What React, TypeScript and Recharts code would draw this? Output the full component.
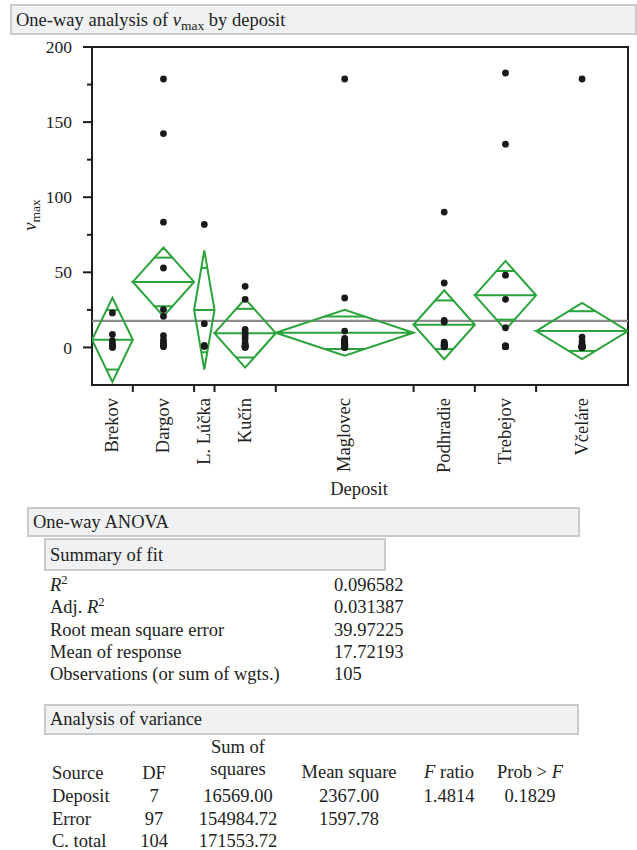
import React from 'react';
import { ScatterChart, Scatter, XAxis, YAxis, ReferenceArea } from 'recharts';

// ---------- data ----------
const deposits = ['Brekov', 'Dargov', 'L. Lúčka', 'Kučín', 'Maglovec', 'Podhradie', 'Trebejov', 'Včeláre'];
const groupSizes = [8, 12, 4, 12, 27, 12, 12, 18];
const groupMeans = [5.1, 43.6, 24.9, 9.5, 9.8, 15.1, 34.7, 10.9];
const ciHalfWidths = [28.0, 22.9, 39.7, 22.9, 15.3, 22.9, 22.9, 18.7];
const grandMean = 17.72193;

const brekovValues = [23, 8.7, 4.5, 2.5, 1.2, 0.8, 0.3, 0];
const dargovValues = [178.7, 142.4, 83.4, 52.9, 25.2, 20.7, 7.8, 5, 3, 2, 1.5, 0.5];
const lLuckaValues = [81.9, 15.8, 1.3, 0.6];
const kucinValues = [40.7, 32, 12, 10, 8, 6, 3, 1.5, 0.8, 0.5, 0.3, 0];
const maglovecValues = [178.7, 32.9, 10.9, 6, 5, 4, 4, 3, 3, 2, 2, 2, 2, 1.5, 1.5, 1, 1, 1, 1, 0.5, 0.5, 0.5, 0.5, 0.3, 0.2, 0, 0];
const podhradieValues = [90.1, 42.9, 18, 16.9, 3.5, 3, 2, 1.5, 1.2, 1, 0.5, 0.4];
const trebejovValues = [182.7, 135.3, 48.1, 32, 13.1, 1, 1, 0.8, 0.7, 0.7, 0.5, 0.5];
const vcelareValues = [178.7, 6.9, 4, 2, 1, 1, 0.5, 0.5, 0.3, 0.2, 0.2, 0.2, 0.1, 0.1, 0.1, 0.1, 0, 0];
const groupValues = [brekovValues, dargovValues, lLuckaValues, kucinValues, maglovecValues, podhradieValues, trebejovValues, vcelareValues];

const yMajorTicks = [0, 50, 100, 150, 200];
const yMinorTicks = [25, 75, 125, 175];
const yDomain: [number, number] = [-25, 200];

const summaryLabels = ['R2', 'Adj. R2', 'Root mean square error', 'Mean of response', 'Observations (or sum of wgts.)'];
const summaryValues = ['0.096582', '0.031387', '39.97225', '17.72193', '105'];

const anovaSources = ['Deposit', 'Error', 'C. total'];
const anovaDF = ['7', '97', '104'];
const anovaSS = ['16569.00', '154984.72', '171553.72'];
const anovaMS = ['2367.00', '1597.78', ''];
const anovaF = ['1.4814', '', ''];
const anovaP = ['0.1829', '', ''];

// ---------- derived ----------
const total = groupSizes.reduce((a, b) => a + b, 0);
const starts: number[] = [];
const ends: number[] = [];
const centers: number[] = [];
{
  let acc = 0;
  groupSizes.forEach((n) => {
    starts.push(acc);
    ends.push(acc + n);
    centers.push(acc + n / 2);
    acc += n;
  });
}
const boundaryTicks = ends.slice(0, ends.length - 1);
const xTicks = [...boundaryTicks, ...centers].sort((a, b) => a - b);
const yTicks = [...yMajorTicks, ...yMinorTicks].sort((a, b) => a - b);

const diamonds = groupMeans.map((m, i) => {
  const h = ciHalfWidths[i];
  const s = starts[i], e = ends[i], c = centers[i];
  return [
    { x: s, y: m }, { x: c, y: m + h }, { x: e, y: m }, { x: c, y: m - h }, { x: s, y: m }, { x: e, y: m },
  ];
});
const overlapMarks = groupMeans.flatMap((m, i) => {
  const k = ciHalfWidths[i] / Math.SQRT2;
  const hw = ((ends[i] - starts[i]) / 2) * (1 - 1 / Math.SQRT2);
  const c = centers[i];
  return [
    [{ x: c - hw, y: m + k }, { x: c + hw, y: m + k }],
    [{ x: c - hw, y: m - k }, { x: c + hw, y: m - k }],
  ];
});
const grandMeanLine = [{ x: 0, y: grandMean }, { x: total, y: grandMean }];
const points = groupValues.flatMap((vals, i) => vals.map((v) => ({ x: centers[i], y: v })));

// ---------- style ----------
const FONT = '"Liberation Serif", "Times New Roman", serif';
const FS = 18.5;
const GREEN = '#2aa33b';
const FRAME = '#1e1e1e';
const BOX_FILL = '#f0f1f3';
const BOX_STROKE = '#c9cacc';

const noShape = () => <g />;

const Dot = (props: any) => {
  const { cx, cy } = props;
  return <circle cx={cx} cy={cy} r={3.4} fill="#1a1a1a" />;
};

const XTick = (props: any) => {
  const { x, y, payload } = props;
  const v = payload.value;
  const bi = boundaryTicks.indexOf(v);
  if (bi >= 0) {
    return <line x1={x} x2={x} y1={y} y2={y + 7} stroke={FRAME} strokeWidth={2} />;
  }
  const ci = centers.indexOf(v);
  const ty = y + 13;
  return (
    <text
      x={x}
      y={ty}
      transform={`rotate(-90, ${x}, ${ty})`}
      textAnchor="end"
      dy="0.3em"
      fontSize={FS}
      fontFamily={FONT}
      fill="#222"
    >
      {ci >= 0 ? deposits[ci] : ''}
    </text>
  );
};

const YTick = (props: any) => {
  const { x, y, payload } = props;
  const v = payload.value;
  const major = yMajorTicks.indexOf(v) >= 0;
  return (
    <g>
      <line x1={x - (major ? 9 : 5)} x2={x} y1={y} y2={y} stroke={FRAME} strokeWidth={2} />
      {major && (
        <text x={x - 20} y={y} dy="0.35em" textAnchor="end" fontSize={17.5} fontFamily={FONT} fill="#222">
          {v}
        </text>
      )}
    </g>
  );
};

const Box = ({ x, y, w, h, label, ty }: any) => (
  <g>
    <rect x={x} y={y} width={w} height={h} fill={BOX_FILL} stroke={BOX_STROKE} strokeWidth={2} />
    <text x={x + 5} y={ty} fontSize={FS} fontFamily={FONT} fill="#222">{label}</text>
  </g>
);

const renderSummaryLabel = (lab: string) => {
  if (lab === 'R2') {
    return [<tspan key="a" fontStyle="italic">R</tspan>, <tspan key="b" fontSize={12.5} dy={-7}>2</tspan>];
  }
  if (lab === 'Adj. R2') {
    return [<tspan key="a">Adj. </tspan>, <tspan key="b" fontStyle="italic">R</tspan>, <tspan key="c" fontSize={12.5} dy={-7}>2</tspan>];
  }
  return lab;
};

const summaryBaselines = [591, 613, 636, 658, 680];
const anovaBaselines = [802, 825, 847];
const colDF = 154;
const colSS = 238;
const colMS = 349;
const colF = 449;
const colP = 530;

export default function App() {
  return (
    <div style={{ position: 'absolute', left: 0, top: 0, width: 637, height: 850, background: '#fff', fontFamily: FONT }}>
      <div style={{ position: 'absolute', left: 0, top: 0 }}>
        <ScatterChart width={637} height={500} margin={{ top: 47, right: 9, bottom: 15, left: 32 }}>
          <XAxis
            dataKey="x"
            type="number"
            domain={[0, total]}
            allowDataOverflow
            ticks={xTicks}
            interval={0}
            height={100}
            tickSize={0}
            tickMargin={0}
            tickLine={false}
            axisLine={{ stroke: FRAME, strokeWidth: 2 }}
            tick={<XTick />}
          />
          <YAxis
            dataKey="y"
            type="number"
            domain={yDomain}
            allowDataOverflow
            ticks={yTicks}
            interval={0}
            width={60}
            tickSize={0}
            tickMargin={0}
            tickLine={false}
            axisLine={{ stroke: FRAME, strokeWidth: 2 }}
            tick={<YTick />}
          />
          <ReferenceArea
            x1={0}
            x2={total}
            y1={yDomain[0]}
            y2={yDomain[1]}
            fill="none"
            fillOpacity={0}
            stroke={FRAME}
            strokeWidth={2}
            ifOverflow="visible"
          />
          <Scatter
            data={grandMeanLine}
            line={{ stroke: '#8c8c8c', strokeWidth: 2.2 }}
            lineType="joint"
            shape={noShape}
            isAnimationActive={false}
          />
          {diamonds.map((d, i) => (
            <Scatter
              key={`d${i}`}
              data={d}
              line={{ stroke: GREEN, strokeWidth: 2, fill: 'none' }}
              lineType="joint"
              shape={noShape}
              isAnimationActive={false}
            />
          ))}
          {overlapMarks.map((d, i) => (
            <Scatter
              key={`o${i}`}
              data={d}
              line={{ stroke: GREEN, strokeWidth: 2 }}
              lineType="joint"
              shape={noShape}
              isAnimationActive={false}
            />
          ))}
          <Scatter data={points} shape={<Dot />} isAnimationActive={false} />
        </ScatterChart>
      </div>
      <svg
        width={637}
        height={850}
        style={{ position: 'absolute', left: 0, top: 0, pointerEvents: 'none' }}
        fontFamily={FONT}
      >
        {/* title */}
        <rect x={11} y={5} width={625} height={29} fill={BOX_FILL} stroke={BOX_STROKE} strokeWidth={2} />
        <text x={16} y={26} fontSize={FS} fill="#222">
          One-way analysis of <tspan fontStyle="italic">v</tspan>
          <tspan fontSize={13.5} dy={4}>max</tspan>
          <tspan dy={-4}> by deposit</tspan>
        </text>
        {/* y label */}
        <text x={30} y={215} transform="rotate(-90, 30, 215)" textAnchor="middle" dy="0.35em" fontSize={FS} fill="#222">
          <tspan fontStyle="italic">v</tspan>
          <tspan fontSize={13.5} dy={4}>max</tspan>
        </text>
        {/* x label */}
        <text x={359} y={495} textAnchor="middle" fontSize={FS} fill="#222">Deposit</text>

        <Box x={28} y={508} w={551} h={28} label="One-way ANOVA" ty={528} />
        <Box x={45} y={539} w={340} h={31} label="Summary of fit" ty={561} />
        {summaryLabels.map((lab, i) => (
          <g key={`s${i}`}>
            <text x={50} y={summaryBaselines[i]} fontSize={FS} fill="#222">{renderSummaryLabel(lab)}</text>
            <text x={334} y={summaryBaselines[i]} fontSize={FS} fill="#222">{summaryValues[i]}</text>
          </g>
        ))}

        <Box x={45} y={705} w={533} h={29} label="Analysis of variance" ty={725} />
        <text x={colSS} y={753} textAnchor="middle" fontSize={FS} fill="#222">Sum of</text>
        <text x={colSS} y={775} textAnchor="middle" fontSize={FS} fill="#222">squares</text>
        <text x={52} y={779} fontSize={FS} fill="#222">Source</text>
        <text x={colDF} y={779} textAnchor="middle" fontSize={FS} fill="#222">DF</text>
        <text x={colMS} y={778} textAnchor="middle" fontSize={FS} fill="#222">Mean square</text>
        <text x={colF} y={778} textAnchor="middle" fontSize={FS} fill="#222">
          <tspan fontStyle="italic">F</tspan> ratio
        </text>
        <text x={colP} y={778} textAnchor="middle" fontSize={FS} fill="#222">
          Prob &gt; <tspan fontStyle="italic">F</tspan>
        </text>
        {anovaSources.map((src, i) => (
          <g key={`a${i}`}>
            <text x={52} y={anovaBaselines[i]} fontSize={FS} fill="#222">{src}</text>
            <text x={colDF} y={anovaBaselines[i]} textAnchor="middle" fontSize={FS} fill="#222">{anovaDF[i]}</text>
            <text x={colSS} y={anovaBaselines[i]} textAnchor="middle" fontSize={FS} fill="#222">{anovaSS[i]}</text>
            {anovaMS[i] && <text x={colMS} y={anovaBaselines[i]} textAnchor="middle" fontSize={FS} fill="#222">{anovaMS[i]}</text>}
            {anovaF[i] && <text x={colF} y={anovaBaselines[i]} textAnchor="middle" fontSize={FS} fill="#222">{anovaF[i]}</text>}
            {anovaP[i] && <text x={colP} y={anovaBaselines[i]} textAnchor="middle" fontSize={FS} fill="#222">{anovaP[i]}</text>}
          </g>
        ))}
      </svg>
    </div>
  );
}
